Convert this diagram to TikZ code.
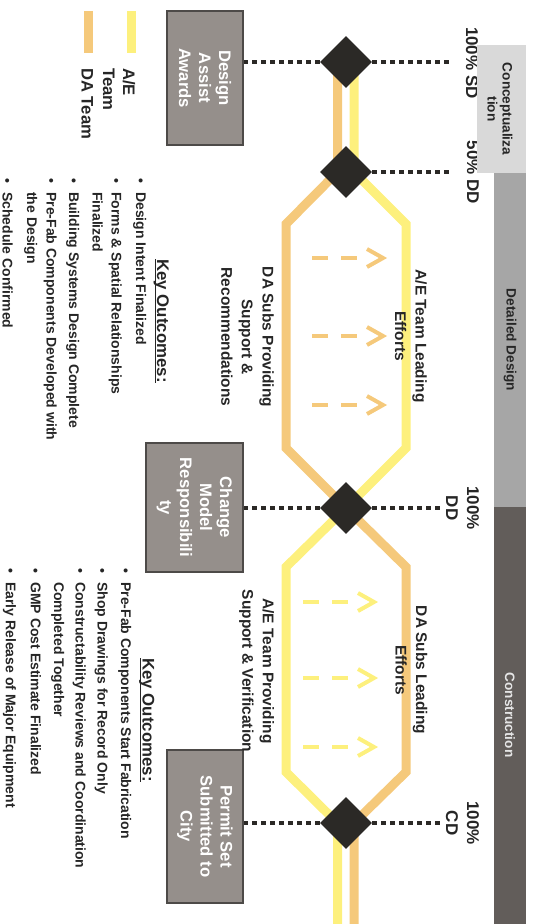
\documentclass[tikz,border=0pt]{standalone}
\usepackage{fontspec}
\setmainfont{Liberation Sans}
\usetikzlibrary{shapes.geometric}

\definecolor{daorange}{HTML}{F5C97B}
\definecolor{aeyellow}{HTML}{FDF07D}
\definecolor{ink}{HTML}{2B2926}
\definecolor{boxgray}{HTML}{958F8B}
\definecolor{boxedge}{HTML}{4D4A48}
\definecolor{concgray}{HTML}{D9D9D9}
\definecolor{detgray}{HTML}{A6A6A6}
\definecolor{congray}{HTML}{625D5A}
\definecolor{txt}{HTML}{262626}

\newcommand{\itemdot}{\llap{\textbullet\hspace{6.4pt}}}

\begin{document}
\begin{tikzpicture}[x=0.75pt,y=-0.75pt,
  every node/.style={inner sep=0pt, text=txt, font=\bfseries},
  lane/.style={line width=6.75pt, line join=miter},
  dotline/.style={ink, line width=3.2pt, dash pattern=on 3.6pt off 3.15pt},
  dasharr/.style={line width=3pt, dash pattern=on 12pt off 9.75pt},
  chev/.style={line width=3pt, line join=miter},
  milestone/.style={shape=diamond, fill=ink, minimum width=39pt, minimum height=39pt, inner sep=0pt},
  gatebox/.style={rotate=-90, draw=boxedge, line width=1pt, fill=boxgray, text=white,
    align=center, font=\bfseries\fontsize{12.5}{15}\selectfont},
  mslabel/.style={rotate=-90, align=center, font=\bfseries\fontsize{12.75}{15.75}\selectfont},
  phase/.style={rotate=-90, align=center, font=\bfseries\fontsize{10.2}{11.25}\selectfont},
  lanetext/.style={rotate=-90, align=center, font=\bfseries\fontsize{11.6}{15.4}\selectfont},
  keyhead/.style={rotate=-90, anchor=base, font=\bfseries\fontsize{12.6}{15}\selectfont},
  bline/.style={rotate=-90, anchor=base west, font=\bfseries\fontsize{10.5}{13}\selectfont},
  legtext/.style={rotate=-90, anchor=base west, font=\bfseries\fontsize{12.5}{15}\selectfont}
]
\useasboundingbox (0,0) rectangle (532,924);

% phase bands
\fill[detgray] (494,173) rectangle (526,507);
\fill[congray] (494,507) rectangle (526,924);
\node[phase] (detail) at (510,340) {Detailed Design};
\node[phase, text=white!90!black] (constr) at (510,715) {Construction};

% milestone labels
\node[mslabel] (ms1) at (472,63) {100\% SD};
\node[mslabel] (ms2) at (473,172.5) {50\% DD};
\node[mslabel] (ms3) at (462.5,508) {100\%\\DD};
\node[mslabel] (ms4) at (462.5,823) {100\%\\CD};

% conceptualization band
\fill[concgray] (477,45) rectangle (526,173);
\node[phase] (concept) at (500,109) {Conceptualiza\\tion};

% legend
\draw[lane, aeyellow] (131.5,11) -- (131.5,53);
\draw[lane, daorange] (88.5,11) -- (88.5,53);
\node[legtext] (legae1) at (123,68) {A/E};
\node[legtext] (legae2) at (103,68) {Team};
\node[legtext] (legda) at (81.5,68) {DA Team};

% team lanes
\draw[lane, daorange] (337.5,62) -- (337.5,172) -- (286,224) -- (286,448) -- (346,508)
  -- (406,567) -- (406,772) -- (354,823) -- (354,924);
\draw[lane, aeyellow] (354,62) -- (354,172) -- (406,224) -- (406,448) -- (346,508)
  -- (286,567) -- (286,772) -- (337.5,823) -- (337.5,924);

% support arrows, design phase
\foreach \yy in {258,336,405} {
  \draw[dasharr, daorange] (312,\yy) -- (357,\yy);
  \draw[chev, daorange] (367,\yy-9) -- (383,\yy) -- (367,\yy+9);
}
% support arrows, construction phase
\foreach \yy in {602,678,747} {
  \draw[dasharr, aeyellow] (303,\yy) -- (348,\yy);
  \draw[chev, aeyellow] (358,\yy-9) -- (374,\yy) -- (358,\yy+9);
}

% gate boxes
\node[gatebox, minimum width=100.5pt, minimum height=57pt] (da) at (205,78) {Design\\Assist\\Awards};
\node[gatebox, minimum width=96.75pt, minimum height=72.75pt] (cm) at (194.5,507.5) {Change\\Model\\Responsibili\\ty};
\node[gatebox, minimum width=114.75pt, minimum height=57pt] (ps) at (205,826.5) {Permit Set\\Submitted to\\City};

% milestones
\node[milestone] (d1) at (346,62) {};
\node[milestone] (d2) at (346,172) {};
\node[milestone] (d3) at (346,508) {};
\node[milestone] (d4) at (346,823) {};

\coordinate (r1) at (453,62);
\coordinate (r2) at (453,172);
\coordinate (r3) at (442,508);
\coordinate (r4) at (442,823);

\draw[dotline] (d1.west) -- (d1.west -| da.north);
\draw[dotline] (d1.east) -- (r1);
\draw[dotline] (d2.east) -- (r2);
\draw[dotline] (d3.west) -- (d3.west -| cm.north);
\draw[dotline] (d3.east) -- (r3);
\draw[dotline] (d4.west) -- (d4.west -| ps.north);
\draw[dotline] (d4.east) -- (r4);

% lane captions
\node[lanetext] (t1) at (411,336) {A/E Team Leading\\Efforts};
\node[lanetext] (t2) at (247.5,337) {DA Subs Providing\\Support \&\\Recommendations};
\node[lanetext] (t3) at (411.5,670) {DA Subs Leading\\Efforts};
\node[lanetext] (t4) at (256.6,671) {A/E Team Providing\\Support \& Verification};

% key outcomes, design
\node[keyhead] (k1) at (157,321) {Key Outcomes:};
\draw[txt, line width=1pt] ([xshift=-1.3pt]k1.base west) -- ([xshift=-1.3pt]k1.base east);
\node[bline] (o1a) at (136,192) {\itemdot Design Intent Finalized};
\node[bline] (o1b) at (111.5,192) {\itemdot Forms \& Spatial Relationships};
\node[bline] (o1c) at (92.5,192) {Finalized};
\node[bline] (o1d) at (69,192) {\itemdot Building Systems Design Complete};
\node[bline] (o1e) at (46.5,192) {\itemdot Pre-Fab Components Developed with};
\node[bline] (o1f) at (27,192) {the Design};
\node[bline] (o1g) at (2.5,192) {\itemdot Schedule Confirmed};

% key outcomes, construction
\node[keyhead] (k2) at (142.5,720) {Key Outcomes:};
\draw[txt, line width=1pt] ([xshift=-1.3pt]k2.base west) -- ([xshift=-1.3pt]k2.base east);
\node[bline] (o2a) at (121,582) {\itemdot Pre-Fab Components Start Fabrication};
\node[bline] (o2b) at (97.5,582) {\itemdot Shop Drawings for Record Only};
\node[bline] (o2c) at (75.5,582) {\itemdot Constructability Reviews and Coordination};
\node[bline] (o2d) at (54,582) {Completed Together};
\node[bline] (o2e) at (31,582) {\itemdot GMP Cost Estimate Finalized};
\node[bline] (o2f) at (6,582) {\itemdot Early Release of Major Equipment};
\end{tikzpicture}
\end{document}
